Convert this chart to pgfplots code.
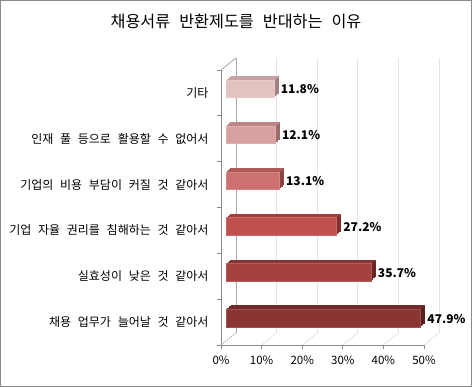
\documentclass[border=0pt]{standalone}
\usepackage{pgfplots}
\pgfplotsset{compat=1.18}
\usepackage{fontspec}
\setmainfont{Noto Sans CJK KR}[WordSpace=2.5]
\definecolor{axisgray}{HTML}{8A8A8A}
\definecolor{wallgray}{HTML}{A8A8A8}
\definecolor{gridgray}{HTML}{E4E4E4}
\definecolor{fa}{HTML}{E3C2C2}\definecolor{ta}{HTML}{C8A2A2}\definecolor{sa}{HTML}{A08080}
\definecolor{fb}{HTML}{D9A0A0}\definecolor{tb}{HTML}{BE8585}\definecolor{sb}{HTML}{9A6C6C}
\definecolor{fc}{HTML}{CD7070}\definecolor{tc}{HTML}{AF5858}\definecolor{sc}{HTML}{8C4545}
\definecolor{fd}{HTML}{C0504D}\definecolor{td}{HTML}{A13E3C}\definecolor{sd}{HTML}{7D2F2E}
\definecolor{fe}{HTML}{A5423F}\definecolor{te}{HTML}{883432}\definecolor{se}{HTML}{682726}
\definecolor{ff}{HTML}{8A3434}\definecolor{tf}{HTML}{712929}\definecolor{sf}{HTML}{561F1F}
\pgfplotsset{
  sideface/.style={xbar, bar width=17.5bp, bar shift=0pt, fill=#1, draw=none, forget plot},
  topstrip/.style={xbar, bar width=1.2bp, bar shift=0pt, fill=#1, draw=none, forget plot},
}
% #1 category position, #2 value, #3 front, #4 top, #5 side
\newcommand\tdbar[5]{%
  \addplot[sideface=#5, xshift=5.83bp, yshift=4.67bp] coordinates {(#2,#1)};
  \addplot[sideface=#5, xshift=6.67bp, yshift=5.33bp] coordinates {(#2,#1)};
  \addplot[sideface=#5, xshift=7.5bp, yshift=6bp] coordinates {(#2,#1)};
  \addplot[sideface=#5, xshift=8.33bp, yshift=6.67bp] coordinates {(#2,#1)};
  \addplot[sideface=#5, xshift=9.17bp, yshift=7.33bp] coordinates {(#2,#1)};
  \addplot[sideface=#5, xshift=10bp, yshift=8bp] coordinates {(#2,#1)};
  \addplot[topstrip=#4, xshift=5bp, yshift=12.4bp] coordinates {(#2,#1)};
  \addplot[topstrip=#4, xshift=5.83bp, yshift=13.07bp] coordinates {(#2,#1)};
  \addplot[topstrip=#4, xshift=6.67bp, yshift=13.73bp] coordinates {(#2,#1)};
  \addplot[topstrip=#4, xshift=7.5bp, yshift=14.4bp] coordinates {(#2,#1)};
  \addplot[topstrip=#4, xshift=8.33bp, yshift=15.07bp] coordinates {(#2,#1)};
  \addplot[topstrip=#4, xshift=9.17bp, yshift=15.73bp] coordinates {(#2,#1)};
  \addplot[topstrip=#4, xshift=9.6bp, yshift=16.1bp] coordinates {(#2,#1)};
  \addplot[xbar, bar width=17.5bp, bar shift=0pt, fill=#3, draw=#3!85!white, line width=0.5bp,
    forget plot, xshift=5bp, yshift=4bp,
    nodes near coords={#2\%},
    every node near coord/.style={anchor=west, inner sep=0pt, outer sep=0pt, xshift=7bp, yshift=-0.5bp,
      text=black, font=\bfseries\fontsize{12bp}{14bp}\selectfont}]
    coordinates {(#2,#1)};
}
\begin{document}
\begin{tikzpicture}
\fill[white] (0,0) rectangle (473bp,387bp);
\draw[axisgray, line width=1bp] (0.5bp,0.5bp) rectangle (471.5bp,386.5bp);
\node[font=\fontsize{16.2bp}{19bp}\selectfont] at (236bp,366bp) {채용서류 반환제도를 반대하는 이유};
\begin{axis}[
  at={(221bp,42bp)}, anchor=south west, scale only axis,
  width=203bp, height=275bp,
  xmin=0, xmax=50, ymin=-0.5, ymax=5.5, clip=false,
  axis x line*=bottom, axis y line*=left,
  axis line style={draw=axisgray, line width=0.8bp},
  tick align=outside, major tick length=4bp,
  tick style={draw=axisgray, line width=0.8bp},
  xtick={0,10,20,30,40,50},
  xticklabels={0\%,10\%,20\%,30\%,40\%,50\%},
  xticklabel style={font=\fontsize{11.5bp}{13bp}\selectfont, yshift=-3.5bp},
  ytick={-0.5,0.5,1.5,2.5,3.5,4.5,5.5},
  yticklabels={},
  extra y ticks={0,1,2,3,4,5},
  extra y tick labels={채용 업무가 늘어날 것 같아서, 실효성이 낮은 것 같아서, 기업 자율 권리를 침해하는 것 같아서, 기업의 비용 부담이 커질 것 같아서, 인재 풀 등으로 활용할 수 없어서, 기타},
  extra y tick style={major tick length=0pt},
  yticklabel style={font=\fontsize{12bp}{14bp}\selectfont, xshift=-9bp},
]
% back wall grid
\pgfplotsinvokeforeach{10,20,30,40,50}{
  \draw[gridgray, line width=0.8bp] ([xshift=15bp,yshift=12bp]axis cs:#1,-0.5) -- ([xshift=15bp,yshift=12bp]axis cs:#1,5.5);
  \draw[gridgray, line width=0.8bp] (axis cs:#1,-0.5) -- ([xshift=15bp,yshift=12bp]axis cs:#1,-0.5);
}
\draw[wallgray, line width=0.8bp] ([xshift=15bp,yshift=12bp]axis cs:0,-0.5) -- ([xshift=15bp,yshift=12bp]axis cs:0,5.5);
\draw[wallgray, line width=0.8bp] (axis cs:0,5.5) -- ([xshift=15bp,yshift=12bp]axis cs:0,5.5);
\draw[wallgray, line width=0.8bp, dash pattern=on 1.5bp off 1bp] (axis cs:0,-0.5) -- ([xshift=15bp,yshift=12bp]axis cs:0,-0.5);
% bars
\tdbar{5}{11.8}{fa}{ta}{sa}
\tdbar{4}{12.1}{fb}{tb}{sb}
\tdbar{3}{13.1}{fc}{tc}{sc}
\tdbar{2}{27.2}{fd}{td}{sd}
\tdbar{1}{35.7}{fe}{te}{se}
\tdbar{0}{47.9}{ff}{tf}{sf}
\end{axis}
\end{tikzpicture}
\end{document}
